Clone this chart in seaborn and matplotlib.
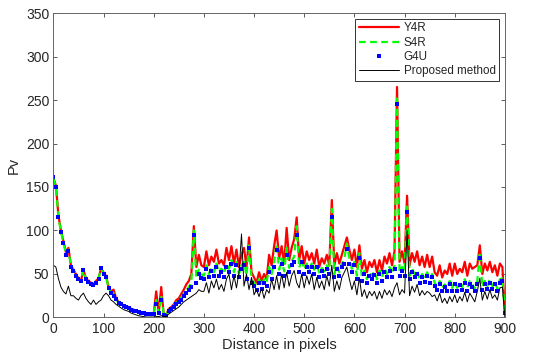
import numpy as np
import pandas as pd
import matplotlib
matplotlib.use("Agg")
import matplotlib.pyplot as plt
import seaborn as sns

# ========== DATA (every 5 px) ==========
distance = np.arange(0, 905, 5)

y4r = [
    160, 152, 118, 100, 88, 75, 80, 60, 55, 50,
    45, 42, 55, 45, 42, 40, 38, 42, 45, 56,
    52, 48, 35, 30, 32, 22, 18, 16, 14, 13,
    12, 10, 9, 8, 7, 6, 5, 5, 4, 4,
    4, 30, 5, 35, 3, 3, 10, 12, 15, 20,
    22, 27, 32, 38, 42, 50, 105, 58, 72, 60,
    58, 76, 60, 70, 64, 78, 62, 66, 60, 80,
    66, 82, 62, 78, 58, 72, 80, 58, 92, 52,
    46, 40, 52, 42, 50, 44, 72, 60, 82, 100,
    68, 82, 62, 103, 66, 80, 90, 115, 66, 82,
    62, 76, 66, 74, 62, 78, 58, 68, 62, 72,
    60, 135, 60, 74, 62, 72, 82, 92, 78, 66,
    78, 58, 83, 56, 66, 52, 64, 58, 66, 52,
    66, 54, 70, 62, 74, 60, 76, 265, 64, 76,
    62, 140, 60, 74, 64, 76, 60, 70, 58, 72,
    58, 70, 52, 48, 60, 46, 54, 50, 62, 48,
    62, 50, 56, 52, 64, 48, 62, 56, 58, 60,
    83, 50, 62, 54, 64, 52, 60, 48, 62, 58,
    5,
]

s4r = [
    160, 150, 116, 99, 87, 73, 78, 59, 54, 49,
    44, 42, 55, 44, 41, 39, 37, 41, 45, 56,
    51, 47, 34, 29, 28, 21, 17, 15, 13, 12,
    11, 9, 8, 7, 6, 5, 5, 4, 4, 4,
    4, 20, 5, 25, 3, 2, 9, 11, 13, 17,
    20, 23, 27, 31, 35, 40, 100, 45, 55, 50,
    48, 60, 50, 58, 52, 62, 52, 56, 50, 62,
    56, 66, 52, 64, 50, 60, 64, 48, 85, 44,
    40, 36, 44, 37, 44, 40, 58, 50, 64, 85,
    55, 68, 53, 80, 57, 65, 70, 105, 57, 68,
    55, 62, 56, 62, 55, 62, 51, 57, 53, 60,
    54, 125, 50, 60, 52, 62, 68, 85, 68, 56,
    64, 48, 74, 46, 54, 44, 52, 48, 53, 44,
    54, 46, 57, 50, 58, 50, 60, 255, 52, 58,
    52, 130, 48, 56, 50, 54, 44, 50, 45, 52,
    44, 50, 40, 35, 42, 34, 38, 34, 42, 34,
    42, 34, 40, 35, 44, 34, 42, 38, 33, 42,
    75, 35, 42, 36, 44, 36, 41, 33, 44, 45,
    5,
]

g4u = [
    162, 150, 115, 98, 86, 72, 76, 58, 53, 48,
    44, 42, 55, 44, 41, 38, 37, 40, 44, 57,
    50, 47, 34, 28, 25, 21, 17, 15, 13, 12,
    11, 9, 8, 7, 6, 5, 5, 4, 4, 4,
    4, 15, 5, 20, 3, 2, 8, 10, 12, 15,
    18, 20, 25, 28, 32, 35, 95, 40, 50, 45,
    44, 56, 46, 54, 48, 58, 48, 52, 46, 58,
    52, 62, 48, 60, 46, 56, 60, 44, 80, 40,
    36, 32, 40, 33, 40, 36, 52, 44, 58, 78,
    50, 62, 48, 72, 52, 60, 64, 95, 52, 64,
    50, 58, 52, 58, 50, 58, 46, 53, 48, 56,
    50, 115, 46, 56, 48, 58, 62, 79, 62, 52,
    60, 44, 68, 42, 50, 40, 48, 44, 49, 40,
    50, 42, 52, 46, 54, 46, 56, 245, 48, 54,
    48, 121, 44, 52, 46, 50, 40, 46, 41, 48,
    40, 46, 36, 32, 38, 30, 35, 31, 38, 30,
    38, 31, 37, 32, 40, 31, 38, 35, 30, 39,
    68, 32, 39, 33, 40, 33, 38, 30, 40, 42,
    5,
]

proposed = [
    60, 58, 45, 35, 30, 27, 36, 25, 25, 22,
    20, 25, 28, 22, 18, 15, 20, 15, 18, 20,
    25, 28, 25, 20, 18, 15, 13, 11, 9, 8,
    7, 5, 4, 3, 2, 1.5, 1, 0.5, 0.5, 0.5,
    0.5, 1, 1, 2, 1, 1, 4, 6, 8, 10,
    12, 15, 18, 20, 22, 24, 26, 28, 32, 30,
    30, 40, 28, 42, 34, 44, 32, 38, 30, 44,
    50, 32, 48, 34, 52, 96, 36, 50, 32, 46,
    26, 32, 24, 34, 22, 32, 28, 44, 32, 48,
    32, 50, 34, 52, 36, 48, 54, 40, 34, 50,
    34, 48, 38, 50, 32, 46, 34, 42, 32, 48,
    36, 60, 30, 42, 32, 46, 52, 58, 44, 32,
    42, 26, 46, 24, 32, 22, 30, 25, 30, 21,
    30, 22, 32, 26, 31, 24, 34, 40, 26, 32,
    28, 100, 25, 36, 29, 38, 25, 31, 26, 30,
    28, 24, 26, 19, 28, 17, 22, 16, 24, 18,
    26, 17, 24, 19, 29, 18, 28, 23, 18, 30,
    45, 20, 30, 21, 32, 22, 26, 20, 34, 35,
    0,
]

x_ticks = [0, 100, 200, 300, 400, 500, 600, 700, 800, 900]
y_ticks = [0, 50, 100, 150, 200, 250, 300, 350]

df = pd.DataFrame({"x": distance, "Y4R": y4r, "S4R": s4r,
                   "G4U": g4u, "Proposed method": proposed})

# ========== PLOT ==========
sns.set_style("white")
plt.rcParams["font.family"] = ["Liberation Sans", "DejaVu Sans"]

fig = plt.figure(figsize=(5.5, 3.62), dpi=100)
ax = fig.add_axes([0.097, 0.123, 0.821, 0.841])

sns.lineplot(data=df, x="x", y="Y4R", ax=ax, color="#ff0000", lw=1.6, label="Y4R")
sns.lineplot(data=df, x="x", y="S4R", ax=ax, color="#00ff00", lw=1.6,
             linestyle=(0, (3, 2)), label="S4R")
sns.lineplot(data=df, x="x", y="G4U", ax=ax, color="#0000ff", linestyle="",
             marker="s", markersize=3.0, markeredgewidth=0, label="G4U")
sns.lineplot(data=df, x="x", y="Proposed method", ax=ax, color="black", lw=0.7,
             label="Proposed method")

ax.set_xlim(0, 900)
ax.set_ylim(0, 350)
ax.set_xticks(x_ticks)
ax.set_yticks(y_ticks)
ax.set_xlabel("Distance in pixels", fontsize=10.5, labelpad=2)
ax.set_ylabel("Pv", fontsize=10.5, labelpad=4)
ax.tick_params(direction="in", length=3, width=0.6, colors="#444444",
               labelcolor="#262626", labelsize=10, top=True, right=True,
               bottom=True, left=True, pad=3)
for sp in ax.spines.values():
    sp.set_color("#666666")
    sp.set_linewidth(0.7)

leg = ax.legend(loc="upper right", fontsize=8.4, frameon=True, fancybox=False,
                edgecolor="#333333", framealpha=1, handlelength=3.5,
                handletextpad=0.35, borderpad=0.3, labelspacing=0.2,
                borderaxespad=0.5)
leg.get_frame().set_linewidth(0.7)

fig.savefig("out.png", dpi=100)
